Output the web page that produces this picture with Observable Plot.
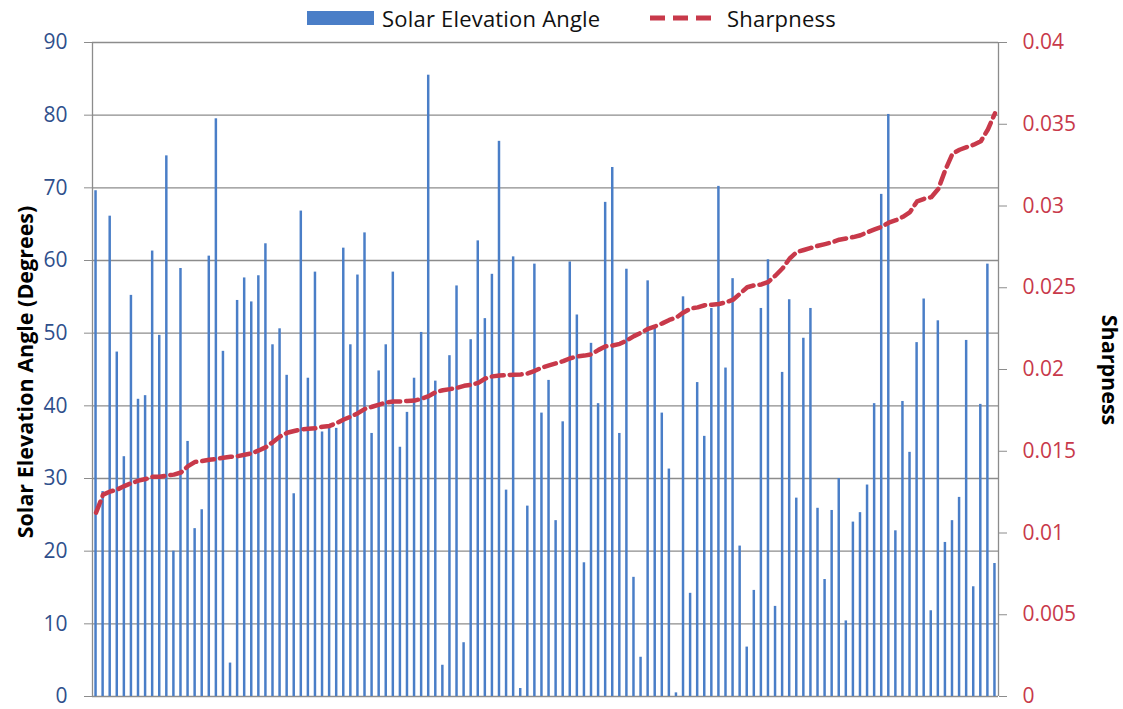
<!DOCTYPE html>
<html>
<head>
<meta charset="utf-8">
<script src="https://cdn.jsdelivr.net/npm/d3@7"></script>
<script src="https://cdn.jsdelivr.net/npm/@observablehq/plot@0.6"></script>
<style>
  html, body { margin: 0; padding: 0; background: #fff; }
  body { position: relative; width: 1123px; height: 709px; overflow: hidden; font-family: "Open Sans", sans-serif; }
  #legend { position: absolute; left: 0; top: 0; width: 1123px; height: 36px; z-index: 2; }
  #legend .item { position: absolute; top: 0; height: 36px; display: flex; align-items: center; font-size: 22px; letter-spacing: 0.2px; color: #111; }
  #chart { position: absolute; left: 0; top: 0; }
  .ytitle { position: absolute; font-weight: bold; font-size: 21.5px; color: #000; white-space: nowrap; z-index: 2; }
</style>
</head>
<body>
<div id="chart"></div>
<div id="legend">
  <div class="item" style="left:307px"><div style="width:67px;height:14px;background:#4A7EC7"></div></div>
  <div class="item" style="left:382px">Solar Elevation Angle</div>
  <div class="item" style="left:650px"><svg width="64" height="10"><line x1="0" y1="5" x2="64" y2="5" stroke="#C8394A" stroke-width="5" stroke-dasharray="15,8"/></svg></div>
  <div class="item" style="left:727px">Sharpness</div>
</div>
<script>
const angles = [69.6,28.2,66.1,47.4,33.0,55.2,40.9,41.4,61.3,49.7,74.4,20.0,58.9,35.1,23.1,25.7,60.6,79.5,47.5,4.6,
54.5,57.6,54.3,57.9,62.3,48.4,50.6,44.2,27.9,66.8,43.8,58.4,36.4,36.9,36.9,61.7,48.4,58.0,63.8,36.2,
44.8,48.4,58.4,34.3,39.1,43.8,50.1,85.5,43.4,4.3,46.9,56.5,7.4,49.1,62.7,52.0,58.1,76.4,28.4,60.5,
1.1,26.2,59.5,39.0,43.5,24.2,37.8,59.8,52.5,18.4,48.6,40.3,68.0,72.8,36.2,58.8,16.4,5.4,57.2,50.9,
39.0,31.3,0.5,55.0,14.2,43.2,35.8,53.4,70.2,45.2,57.5,20.7,6.8,14.6,53.4,60.1,12.4,44.6,54.6,27.3,
49.3,53.4,25.9,16.1,25.6,30.0,10.4,24.0,25.3,29.1,40.3,69.1,80.1,22.8,40.6,33.6,48.7,54.7,11.8,51.7,
21.2,24.2,27.4,49.0,15.1,40.2,59.5,18.3];

const sharpness = [0.01124,0.01235,0.01254,0.01266,0.01287,0.01305,0.0132,0.0133,0.01344,0.01344,
0.01352,0.01357,0.0137,0.01409,0.01435,0.0144,0.01448,0.01453,0.0146,0.01466,
0.0147,0.01479,0.01487,0.01505,0.01525,0.01556,0.0159,0.01613,0.01624,0.01634,
0.01637,0.0164,0.0165,0.01655,0.01673,0.01694,0.01712,0.01733,0.01759,0.01772,
0.01785,0.01798,0.01804,0.01805,0.01808,0.0181,0.01821,0.01837,0.01862,0.01873,
0.0188,0.01888,0.019,0.01906,0.01918,0.01945,0.01958,0.01963,0.01966,0.01968,
0.0197,0.01976,0.01992,0.02012,0.02025,0.02038,0.02051,0.02069,0.0208,0.02085,
0.02093,0.0212,0.02142,0.02147,0.02157,0.02178,0.02204,0.02225,0.02249,0.02264,
0.02282,0.02303,0.02318,0.02349,0.02373,0.0238,0.02393,0.02396,0.02401,0.02411,
0.02427,0.02464,0.02503,0.02515,0.0252,0.02536,0.02575,0.02619,0.02679,0.02718,
0.02731,0.02744,0.02757,0.02767,0.02778,0.02794,0.02802,0.0281,0.02821,0.0284,
0.02857,0.02873,0.02898,0.02913,0.02934,0.02963,0.03028,0.03044,0.03054,0.03105,
0.03222,0.0332,0.03344,0.0336,0.03375,0.03396,0.03468,0.03567];

const angleTicks = [0,10,20,30,40,50,60,70,80,90];
const sharpTicks = [0,0.005,0.01,0.015,0.02,0.025,0.03,0.035,0.04];

const angleMax = 90, sharpMax = 0.04;
const toAngle = s => s * angleMax / sharpMax;

const data = angles.map((a, i) => ({i, angle: a, sharp: sharpness[i]}));

const blue = "#4A7EC7", red = "#C8394A", grid = "#8C8C8C";

const chart = Plot.plot({
  width: 1123,
  height: 709,
  marginLeft: 92,
  marginRight: 125,
  marginTop: 42,
  marginBottom: 13,
  style: {fontFamily: "Open Sans, sans-serif", background: "#fff"},
  x: {type: "linear", domain: [0, angles.length], axis: null},
  y: {domain: [0, angleMax], axis: null},
  marks: [
    Plot.gridY(angleTicks, {stroke: grid, strokeOpacity: 1, strokeWidth: 1.3}),
    Plot.rectY(data, {x1: "i", x2: d => d.i + 1, y1: 0, y2: "angle", fill: blue, insetLeft: 2.3, insetRight: 2.3}),
    Plot.line(data, {x: d => d.i + 0.5, y: d => toAngle(d.sharp), stroke: red, strokeWidth: 4.5, strokeDasharray: "12,6", curve: "linear"}),
    Plot.ruleX([0, angles.length], {stroke: grid, strokeWidth: 1.3}),
    Plot.axisY({anchor: "left", ticks: angleTicks, tickSize: 8, tickPadding: 17, fontSize: 21, color: "#2F4F8C", stroke: grid, label: null, tickFormat: d => String(d)}),
    Plot.axisY({anchor: "right", ticks: sharpTicks.map(toAngle), tickSize: 8, tickPadding: 16, fontSize: 21, color: red, stroke: grid, label: null,
      tickFormat: d => String(+(d * sharpMax / angleMax).toFixed(3))})
  ]
});
document.getElementById("chart").appendChild(chart);

const lt = document.createElement("div");
lt.className = "ytitle";
lt.textContent = "Solar Elevation Angle (Degrees)";
lt.style.left = "24px"; lt.style.top = "372px";
lt.style.transform = "translate(-50%,-50%) rotate(-90deg)";
document.body.appendChild(lt);

const rt = document.createElement("div");
rt.className = "ytitle";
rt.textContent = "Sharpness";
rt.style.left = "1110px"; rt.style.top = "370px";
rt.style.transform = "translate(-50%,-50%) rotate(90deg)";
document.body.appendChild(rt);
</script>
</body>
</html>
